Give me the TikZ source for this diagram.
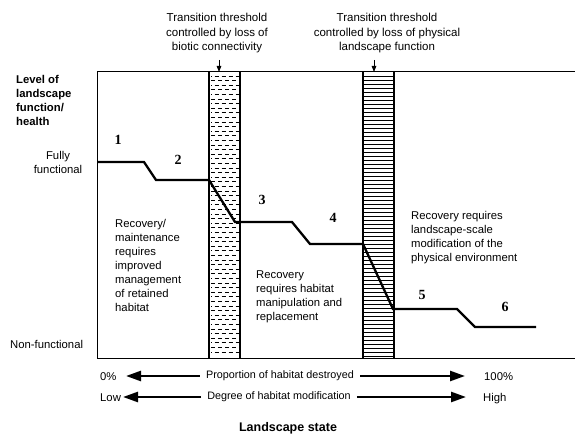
\documentclass[tikz,border=0pt]{standalone}
\usepackage{fontspec}
\setmainfont{Liberation Sans}
\newfontfamily\numfont{Liberation Serif}
\usetikzlibrary{arrows.meta}
\tikzset{
  txt/.style={font=\fontsize{11.3}{14}\selectfont, inner sep=0pt, align=left, anchor=north west},
  ctxt/.style={font=\fontsize{11.5}{14.5}\selectfont, inner sep=0pt, align=center, anchor=north},
  btxt/.style={font=\bfseries\fontsize{11.3}{14}\selectfont, inner sep=0pt, align=left, anchor=north west},
  num/.style={font=\numfont\bfseries\fontsize{14}{16}\selectfont, inner sep=0pt},
  axisline/.style={line width=1pt},
  barline/.style={line width=1.4pt},
  curveline/.style={line width=2.3pt, line join=miter},
  bigarrow/.style={line width=2.5pt, -{Triangle[length=15pt,width=10pt]}},
  tickarrow/.style={line width=0.8pt, -{Triangle[length=6pt,width=4.5pt]}},
  rowlbl/.style={font=\fontsize{10.8}{14}\selectfont, inner ysep=0pt, inner xsep=6pt, anchor=center},
}
\begin{document}
\begin{tikzpicture}[x=1pt,y=-1pt]
\useasboundingbox (0,0) rectangle (575,435);

% bar fills
\foreach \yy [count=\i] in {76,80.6,...,355} {
  \pgfmathsetmacro\ph{mod(\i,2)*3.5}
  \draw[line width=0.7pt, dash pattern=on 4pt off 3pt, dash phase=\ph pt] (211,\yy) -- (239,\yy);
}
\foreach \yy in {76,80,...,356} {
  \draw[line width=0.6pt] (363,\yy) -- (394,\yy);
}
% bar borders
\draw[barline] (209,72) -- (209,358) (240,72) -- (240,358);
\draw[barline] (363,72) -- (363,358) (394,72) -- (394,358);

% axes
\draw[axisline] (575,72) -- (97,72) -- (97,358) -- (575,358);

% curve
\coordinate (c1) at (97,162);
\coordinate (c2) at (144,162);
\coordinate (c3) at (156,180);
\coordinate (c4) at (209,180);
\coordinate (c5) at (235,222);
\coordinate (c6) at (292,222);
\coordinate (c7) at (310,244);
\coordinate (c8) at (363,244);
\coordinate (c9) at (393,309);
\coordinate (c10) at (457,309);
\coordinate (c11) at (475,327);
\coordinate (c12) at (536,327);
\draw[curveline] (c1) -- (c2) -- (c3) -- (c4) -- (c5) -- (c6) -- (c7) -- (c8) -- (c9) -- (c10) -- (c11) -- (c12);

% numbers
\node[num] (n1) at (118,140) {1};
\node[num] (n2) at (178,160) {2};
\node[num] (n3) at (262,200) {3};
\node[num] (n4) at (333,218) {4};
\node[num] (n5) at (422,295) {5};
\node[num] (n6) at (505,307) {6};

% top labels
\node[ctxt] (t1) at (217,13) {Transition threshold\\controlled by loss of\\biotic connectivity};
\node[ctxt] (t2) at (387,13) {Transition threshold\\controlled by loss of physical\\landscape function};
\coordinate (a1s) at (219,60);
\coordinate (a1e) at (219,72);
\coordinate (a2s) at (374,60);
\coordinate (a2e) at (374,72);
\draw[tickarrow] (a1s) -- (a1e);
\draw[tickarrow] (a2s) -- (a2e);

% y axis labels
\node[btxt] (ylab) at (16,75) {Level of\\landscape\\function/\\health};
\node[txt, align=center, anchor=north] (full) at (58,151) {Fully\\functional};
\node[txt] (nonf) at (10,340) {Non-functional};

% region texts
\node[txt] (r1) at (115,219) {Recovery/\\maintenance\\requires\\improved\\management\\of retained\\habitat};
\node[txt] (r2) at (256,271) {Recovery\\requires habitat\\manipulation and\\replacement};
\node[txt] (r3) at (411,211) {Recovery requires\\landscape-scale\\modification of the\\physical environment};

% bottom rows
\node[txt, anchor=base west] (zero) at (100,380) {0\%};
\node[txt, anchor=base west] (hund) at (484,380) {100\%};
\node[rowlbl] (prop) at (280,376) {Proportion of habitat destroyed};
\coordinate (p0) at (126,376);
\coordinate (p1) at (465,376);
\draw[bigarrow] (prop.west) -- (p0);
\draw[bigarrow] (prop.east) -- (p1);

\node[txt, anchor=base west] (low) at (100,401) {Low};
\node[txt, anchor=base west] (high) at (483,401) {High};
\node[rowlbl] (deg) at (279,397) {Degree of habitat modification};
\coordinate (q0) at (123,397);
\coordinate (q1) at (466,397);
\draw[bigarrow] (deg.west) -- (q0);
\draw[bigarrow] (deg.east) -- (q1);

\node[font=\bfseries\fontsize{12.5}{14}\selectfont, inner sep=0pt, anchor=base] (ls) at (288,431) {Landscape state};
\end{tikzpicture}
\end{document}
